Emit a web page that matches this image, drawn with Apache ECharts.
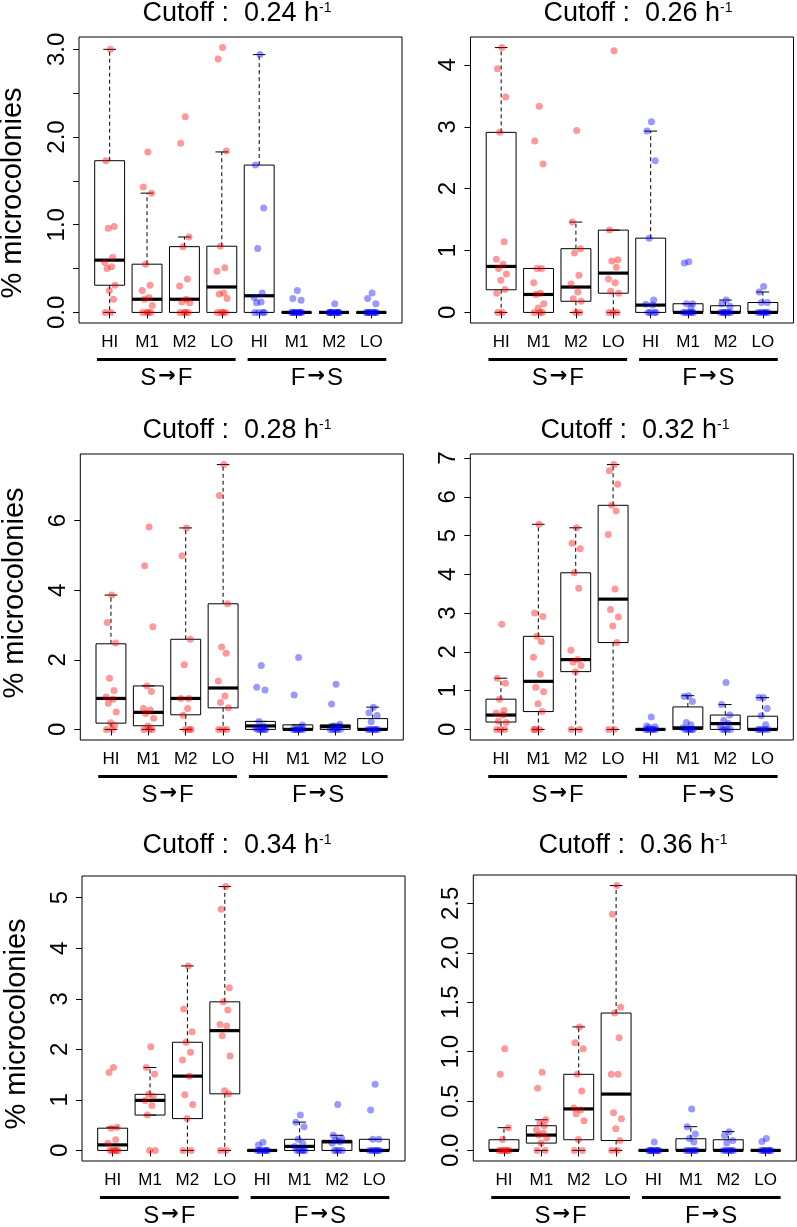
<!DOCTYPE html>
<html>
<head>
<meta charset="utf-8">
<script src="https://cdn.jsdelivr.net/npm/echarts@6/dist/echarts.min.js"></script>
<style>
html,body{margin:0;padding:0;background:#fff;}
#chart{width:797px;height:1227px;}
</style>
</head>
<body>
<div id="chart"></div>
<script>
// ---------------- DATA ----------------
const categories = ['HI', 'M1', 'M2', 'LO', 'HI', 'M1', 'M2', 'LO'];
const groupNames = ['S', 'F'];           // S→F and F→S
const cutoffs = ['0.24', '0.26', '0.28', '0.32', '0.34', '0.36'];
const yTitle = '% microcolonies';

// box statistics per group: [lower whisker, Q1, median, Q3, upper whisker]
const box024 = [[0,0.31,0.596,1.73,3.0],[0,0,0.15,0.55,1.36],[0,0,0.15,0.75,0.86],[0,0,0.29,0.755,1.83],
                [0,0,0.19,1.68,2.94],[0,0,0,0,0],[0,0,0,0,0],[0,0,0,0,0]];
const box026 = [[0,0.366,0.743,2.91,4.28],[0,0,0.29,0.71,0.71],[0,0.18,0.41,1.03,1.46],[0,0.31,0.635,1.33,1.33],
                [0,0,0.118,1.2,2.93],[0,0,0,0.14,0.14],[0,0,0,0.108,0.2],[0,0,0,0.16,0.33]];
const box028 = [[0,0.18,0.89,2.46,3.86],[0,0.105,0.49,1.25,1.25],[0,0.42,0.89,2.59,5.79],[0,0.62,1.19,3.61,7.61],
                [0,0,0.1,0.23,0.23],[0,0,0,0.13,0.13],[0,0,0.08,0.13,0.15],[0,0,0,0.31,0.64]];
const box032 = [[0,0.19,0.37,0.78,1.32],[0,0.46,1.24,2.40,5.29],[0,1.49,1.80,4.04,5.2],[0,2.24,3.36,5.78,6.83],
                [0,0,0,0,0],[0,0,0.04,0.58,0.87],[0,0,0.15,0.37,0.64],[0,0,0,0.34,0.82]];
const box034 = [[0,0,0.11,0.44,0.46],[0.70,0.70,0.99,1.11,1.64],[0,0.63,1.47,2.14,3.65],[0,1.12,2.37,2.94,5.22],
                [0,0,0,0,0],[0,0,0.08,0.22,0.56],[0,0,0.17,0.20,0.30],[0,0,0,0.22,0.22]];
const box036 = [[0,0,0,0.108,0.23],[0,0.074,0.155,0.25,0.31],[0,0.108,0.42,0.77,1.25],[0,0.10,0.57,1.39,2.68],
                [0,0,0,0,0],[0,0,0,0.118,0.24],[0,0,0,0.108,0.19],[0,0,0,0,0]];

// individual observations per group
const pts024 = [[3.0,1.73,0.98,0.96,0.63,0.57,0.52,0.50,0.31,0.25,0.15,0,0],
                [1.83,1.43,1.36,0.55,0.31,0.25,0.17,0.15,0.08,0,0,0,0],
                [2.23,1.93,0.86,0.75,0.38,0.30,0.15,0.12,0.11,0,0,0,0],
                [3.02,2.89,1.84,0.755,0.51,0.47,0.22,0.21,0.16,0,0,0,0],
                [2.94,1.68,1.19,0.73,0.22,0.17,0.12,0.11,0,0,0,0],
                [0.25,0.16,0.14,0,0,0,0,0,0,0,0,0],
                [0.1,0,0,0,0,0,0,0,0,0,0,0],
                [0.22,0.16,0.1,0,0,0,0,0,0,0,0,0]];
const pts026 = [[4.28,3.94,3.48,2.91,1.14,0.86,0.78,0.71,0.62,0.52,0.37,0.31,0,0],
                [3.33,2.77,2.40,0.71,0.71,0.48,0.31,0.29,0.14,0.07,0,0,0],
                [2.94,1.46,1.03,0.96,0.60,0.46,0.33,0.22,0.18,0,0],
                [4.23,1.33,0.85,0.83,0.73,0.54,0.48,0.34,0.31,0,0,0],
                [3.08,2.93,2.45,1.2,0.2,0.13,0.12,0,0,0,0],
                [0.82,0.80,0.14,0.14,0.07,0,0,0,0,0,0],
                [0.2,0.14,0.1,0,0,0,0,0,0,0],
                [0.42,0.33,0.16,0.16,0,0,0,0,0,0]];
const pts028 = [[3.86,3.07,2.48,1.47,1.12,0.93,0.87,0.75,0.5,0.19,0.12,0,0],
                [5.82,4.70,2.95,1.25,1.09,0.6,0.56,0.46,0.32,0.1,0,0,0],
                [5.79,4.99,2.59,1.86,0.89,0.89,0.6,0.41,0,0,0],
                [7.61,6.72,3.61,2.37,2.19,1.39,0.96,0.77,0.62,0,0,0],
                [1.84,1.21,1.13,0.23,0.1,0.03,0,0,0,0,0],
                [2.07,0.99,0.13,0,0,0,0,0,0,0],
                [1.3,0.73,0.15,0.1,0.05,0,0,0,0,0],
                [0.64,0.48,0.4,0.22,0,0,0,0,0,0]];
const pts032 = [[2.71,1.32,1.19,0.78,0.49,0.42,0.37,0.21,0.18,0,0,0],
                [5.29,3.0,2.91,2.4,2.27,1.86,1.42,1.09,0.97,0.66,0.46,0,0,0],
                [5.2,4.8,4.66,4.04,3.64,2.04,1.8,1.74,1.65,1.49,0,0],
                [6.83,6.67,6.32,5.78,5.63,5.03,3.62,3.09,2.9,2.67,2.24,0,0],
                [0.32,0.09,0.07,0.05,0,0,0,0,0,0],
                [0.87,0.85,0.72,0.18,0.12,0.04,0,0,0,0,0],
                [1.21,0.64,0.37,0.23,0.15,0.09,0,0,0,0],
                [0.82,0.82,0.54,0.35,0.12,0,0,0,0,0]];
const pts034 = [[1.64,1.54,0.46,0.44,0.21,0.14,0,0,0,0,0],
                [2.05,1.64,1.51,1.11,1.07,0.99,0.89,0.70,0,0],
                [3.65,2.8,2.35,2.14,1.94,1.79,1.47,1.10,0.91,0.63,0,0],
                [5.22,4.77,3.22,2.94,2.78,2.49,2.46,2.27,1.87,1.18,1.12,0,0],
                [0.16,0.11,0,0,0,0,0,0,0],
                [0.70,0.56,0.47,0.22,0.14,0.08,0,0,0,0,0],
                [0.91,0.30,0.24,0.20,0.17,0.14,0,0,0,0],
                [1.31,0.8,0.22,0.22,0,0,0,0,0,0]];
const pts036 = [[1.03,0.77,0.23,0.11,0,0,0,0,0,0],
                [0.79,0.63,0.31,0.28,0.25,0.21,0.175,0.155,0.125,0.074,0,0],
                [1.25,1.09,1.03,0.77,0.60,0.43,0.41,0.37,0.30,0.11,0,0],
                [2.68,2.39,1.45,1.39,1.14,0.77,0.77,0.38,0.32,0.22,0.1,0,0],
                [0.084,0,0,0,0,0,0,0,0,0],
                [0.42,0.24,0.165,0.12,0.084,0,0,0,0,0,0],
                [0.19,0.15,0.1,0.074,0,0,0,0,0,0],
                [0.12,0.09,0,0,0,0,0,0,0,0]];

// y axis ticks and labelled ticks
const ticks024 = [0,0.5,1,1.5,2,2.5,3];   const labels024 = [0,1,2,3];
const ticks026 = [0,1,2,3,4];             const labels026 = [0,1,2,3,4];
const ticks028 = [0,2,4,6];               const labels028 = [0,2,4,6];
const ticks032 = [0,1,2,3,4,5,6,7];       const labels032 = [0,1,2,3,4,5,6,7];
const ticks034 = [0,1,2,3,4,5];           const labels034 = [0,1,2,3,4,5];
const ticks036 = [0,0.5,1,1.5,2,2.5];     const labels036 = [0,0.5,1,1.5,2,2.5];

// ---------------- LAYOUT / STYLE ----------------
const FONT = '"Liberation Sans", Arial, Helvetica, sans-serif';
const RED = 'rgba(255,0,0,0.5)';
const BLUE = 'rgba(0,0,255,0.5)';
const LAYOUT = [
  {l: 79,    t: 37,  w: 323, h: 286, tx: 237, ty: 12,  yl: [12.5, 193]},
  {l: 470.5, t: 37,  w: 323, h: 286, tx: 638, ty: 12},
  {l: 80.3,  t: 454, w: 323, h: 286, tx: 237, ty: 429, yl: [15, 593]},
  {l: 470.3, t: 454, w: 323, h: 286, tx: 635, ty: 429},
  {l: 82,    t: 876, w: 323, h: 285, tx: 237, ty: 844, yl: [16.5, 1024]},
  {l: 473.3, t: 875, w: 323, h: 286, tx: 633, ty: 844}
];
const GROUP_SPANS = [[0.66, 4.37], [4.69, 8.40]];
const JIT = [0.02,-0.10,0.12,-0.04,0.08,-0.13,0.05,-0.07,0.14,-0.01,0.10,-0.12,0.03,-0.09];
const BOX_HALF = 0.4, CAP_HALF = 0.17;

const panels = [
  {cut: cutoffs[0], stats: box024, pts: pts024, ticks: ticks024, labels: labels024, dec: true},
  {cut: cutoffs[1], stats: box026, pts: pts026, ticks: ticks026, labels: labels026, dec: false},
  {cut: cutoffs[2], stats: box028, pts: pts028, ticks: ticks028, labels: labels028, dec: false},
  {cut: cutoffs[3], stats: box032, pts: pts032, ticks: ticks032, labels: labels032, dec: false},
  {cut: cutoffs[4], stats: box034, pts: pts034, ticks: ticks034, labels: labels034, dec: false},
  {cut: cutoffs[5], stats: box036, pts: pts036, ticks: ticks036, labels: labels036, dec: true}
];

const positions = categories.map((c, i) => i + 1);

const option = {
  animation: false,
  backgroundColor: '#fff',
  title: [], grid: [], xAxis: [], yAxis: [], series: [], graphic: []
};

panels.forEach((p, i) => {
  const L = LAYOUT[i];
  let maxV = 0;
  p.stats.forEach(s => s.forEach(v => { if (v > maxV) maxV = v; }));
  p.pts.forEach(s => s.forEach(v => { if (v > maxV) maxV = v; }));
  const yMin = -0.04 * maxV, yMax = 1.04 * maxV;

  option.title.push({
    text: '{m|Cutoff :  ' + p.cut + ' h}{s|-1}',
    left: L.tx, top: L.ty - 13, textAlign: 'center', padding: 0,
    textStyle: {
      fontWeight: 'normal',
      rich: {
        m: {fontSize: 27, fontFamily: FONT, fontWeight: 'normal', color: '#000', lineHeight: 29},
        s: {fontSize: 14, fontFamily: FONT, fontWeight: 'normal', color: '#000', verticalAlign: 'top', lineHeight: 15, padding: [2, 0, 0, 0]}
      }
    }
  });

  option.grid.push({
    left: L.l, top: L.t, width: L.w, height: L.h,
    show: true, borderColor: '#000', borderWidth: 1, backgroundColor: 'transparent'
  });

  option.xAxis.push({
    gridIndex: i, type: 'value', min: 0.18, max: 8.82,
    axisLine: {show: false}, splitLine: {show: false},
    axisTick: {show: true, inside: false, length: 6, customValues: positions, lineStyle: {color: '#000', width: 1}},
    axisLabel: {customValues: positions, formatter: v => categories[Math.round(v) - 1],
                fontSize: 17, fontFamily: FONT, color: '#000', margin: 11}
  });

  option.yAxis.push({
    gridIndex: i, type: 'value', min: yMin, max: yMax,
    axisLine: {show: false}, splitLine: {show: false},
    axisTick: {show: true, inside: false, length: 6, customValues: p.ticks, lineStyle: {color: '#000', width: 1}},
    axisLabel: {customValues: p.labels, rotate: 90,
                formatter: v => p.dec ? Number(v).toFixed(1) : String(Math.round(v)),
                fontSize: 24, fontFamily: FONT, color: '#000', margin: 10}
  });

  // boxes
  option.series.push({
    type: 'custom', xAxisIndex: i, yAxisIndex: i, z: 2,
    data: p.stats.map((s, g) => [g + 1].concat(s)),
    renderItem: function (params, api) {
      const x = api.value(0), lo = api.value(1), q1 = api.value(2), md = api.value(3), q3 = api.value(4), hi = api.value(5);
      const tl = api.coord([x - BOX_HALF, q3]), br = api.coord([x + BOX_HALF, q1]);
      const c = (a, b) => api.coord([a, b]);
      const ln = (p1, p2, st) => ({type: 'line', shape: {x1: p1[0], y1: p1[1], x2: p2[0], y2: p2[1]}, style: st});
      const solid = {stroke: '#000', lineWidth: 1};
      const dash = {stroke: '#000', lineWidth: 1, lineDash: [4, 3]};
      return {type: 'group', children: [
        ln(c(x, q3), c(x, hi), dash),
        ln(c(x, q1), c(x, lo), dash),
        ln(c(x - CAP_HALF, hi), c(x + CAP_HALF, hi), solid),
        ln(c(x - CAP_HALF, lo), c(x + CAP_HALF, lo), solid),
        {type: 'rect', shape: {x: tl[0], y: tl[1], width: br[0] - tl[0], height: br[1] - tl[1]},
         style: {fill: 'none', stroke: '#000', lineWidth: 1}},
        ln(c(x - BOX_HALF, md), c(x + BOX_HALF, md), {stroke: '#000', lineWidth: 3.2})
      ]};
    }
  });

  // points
  const redData = [], blueData = [];
  p.pts.forEach((vals, g) => {
    vals.forEach((v, k) => {
      const d = [g + 1 + JIT[k % JIT.length], v];
      (g < 4 ? redData : blueData).push(d);
    });
  });
  option.series.push({type: 'scatter', xAxisIndex: i, yAxisIndex: i, z: 3, symbolSize: 7,
    data: redData, itemStyle: {color: RED}, silent: true});
  option.series.push({type: 'scatter', xAxisIndex: i, yAxisIndex: i, z: 3, symbolSize: 7,
    data: blueData, itemStyle: {color: BLUE}, silent: true});

  // group bars and labels
  option.series.push({
    type: 'custom', xAxisIndex: i, yAxisIndex: i, clip: false, z: 4, silent: true,
    data: groupNames.map((n, g) => [g]),
    renderItem: function (params, api) {
      const g = params.dataIndex;
      const span = GROUP_SPANS[g];
      const a = api.coord([span[0], yMin]), b = api.coord([span[1], yMin]);
      const from = groupNames[g], to = groupNames[1 - g];
      return {type: 'group', children: [
        {type: 'line', shape: {x1: a[0], y1: a[1] + 36.5, x2: b[0], y2: b[1] + 36.5},
         style: {stroke: '#000', lineWidth: 3}},
        {type: 'text', x: (a[0] + b[0]) / 2, y: a[1] + 55,
         style: {text: '{t|' + from + '}{r|→}{t|' + to + '}',
                 align: 'center', verticalAlign: 'middle', textAlign: 'center', textVerticalAlign: 'middle',
                 rich: {t: {fontSize: 24, fontFamily: FONT, fill: '#000'},
                        r: {fontSize: 21, fontFamily: '"DejaVu Sans"', fontWeight: 'bold', fill: '#000', padding: [0, 2, 2, 2]}}}}
      ]};
    }
  });

  if (L.yl) {
    option.graphic.push({
      type: 'text', x: L.yl[0], y: L.yl[1], rotation: Math.PI / 2,
      style: {text: yTitle, fontSize: 29, fontFamily: FONT, fill: '#000',
              align: 'center', verticalAlign: 'middle', textAlign: 'center', textVerticalAlign: 'middle'}
    });
  }
});

const chart = echarts.init(document.getElementById('chart'), null, {renderer: 'canvas'});
chart.setOption(option);
</script>
</body>
</html>
